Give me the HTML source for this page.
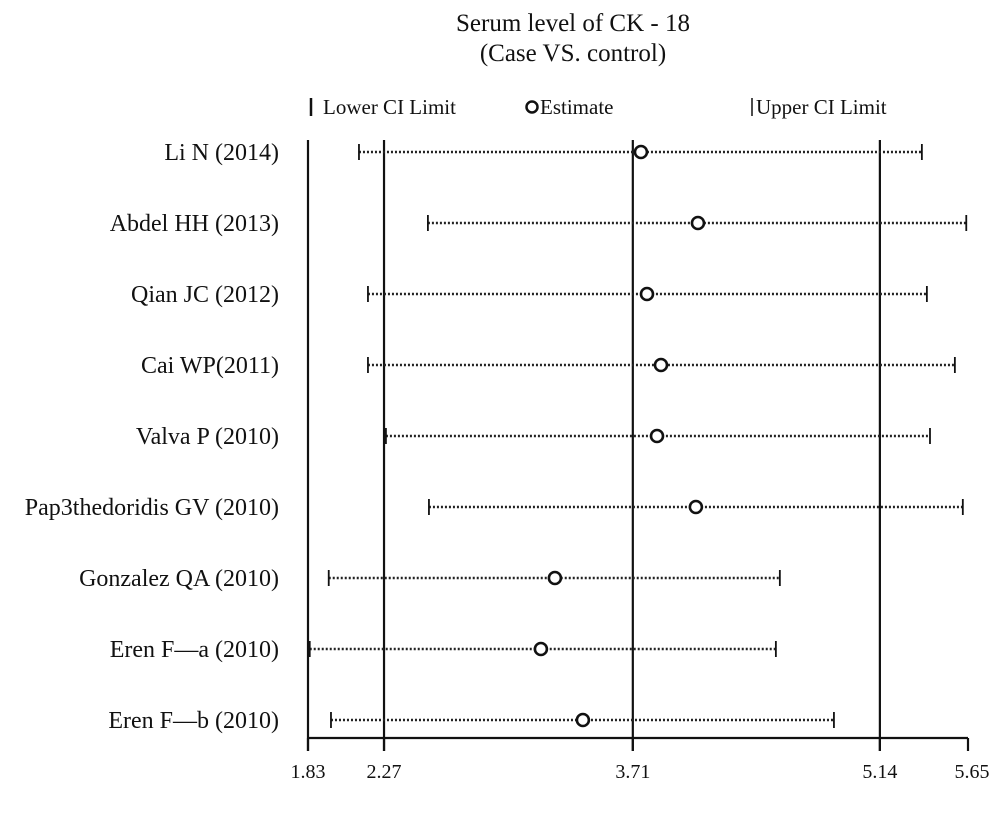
<!DOCTYPE html>
<html><head><meta charset="utf-8"><style>
body{margin:0;background:#fff;}
svg text{font-family:"Liberation Serif",serif;fill:#111;}
</style></head><body>
<svg id="chart" width="1000" height="819" xmlns="http://www.w3.org/2000/svg">
<text x="573" y="31" font-size="25" text-anchor="middle">Serum level of CK - 18</text>
<text x="573" y="61" font-size="25" text-anchor="middle">(Case VS. control)</text>
<g>
<line x1="311" y1="98" x2="311" y2="116" stroke="#111" stroke-width="2.5"/>
<text x="323" y="114" font-size="21">Lower CI Limit</text>
<circle cx="532" cy="107" r="5.5" fill="none" stroke="#111" stroke-width="2.5"/>
<text x="540" y="114" font-size="21">Estimate</text>
<line x1="752" y1="98" x2="752" y2="116" stroke="#111" stroke-width="1.5"/>
<text x="756" y="114" font-size="21">Upper CI Limit</text>
</g>
<g id="plot"></g>
</svg>
<script>
const studies=["Li N (2014)","Abdel HH (2013)","Qian JC (2012)","Cai WP(2011)","Valva P (2010)","Pap3thedoridis GV (2010)","Gonzalez QA (2010)","Eren F—a (2010)","Eren F—b (2010)"];
const lowerCI=[2.125,2.524,2.177,2.177,2.281,2.53,1.95,1.84,1.963];
const estimates=[3.757,4.087,3.792,3.873,3.85,4.075,3.259,3.178,3.421];
const upperCI=[5.383,5.64,5.412,5.574,5.43,5.62,4.561,4.538,4.874];
const tickValues=[1.83,2.27,3.71,5.14,5.65];
const tickLabels=["1.83","2.27","3.71","5.14","5.65"];
const refLines=[1.83,2.27,3.71,5.14];
const xMin=1.83,xMax=5.65,px0=308,px1=968;
const x=v=>px0+(v-xMin)/(xMax-xMin)*(px1-px0);
const rowY=i=>152+i*71;
const axisY=738,topY=140;
const g=document.getElementById('plot');
const NS="http://www.w3.org/2000/svg";
function mk(tag,attrs){const e=document.createElementNS(NS,tag);for(const k in attrs)e.setAttribute(k,attrs[k]);g.appendChild(e);return e;}
refLines.forEach((v,i)=>{const l=mk('line',{x1:x(v),x2:x(v),y1:topY,y2:axisY+13,stroke:'#111','stroke-width':2.2});

});
const ax=mk('line',{x1:x(xMin),x2:x(xMax),y1:axisY,y2:axisY,stroke:'#111','stroke-width':2.2});


tickValues.forEach((v,i)=>{const t=mk('line',{x1:x(v),x2:x(v),y1:axisY,y2:axisY+13,stroke:'#111','stroke-width':2.2});


const tx=mk('text',{x:x(v)+(i==4?4:0),y:axisY+40,'font-size':20,'text-anchor':'middle'});
tx.textContent=tickLabels[i];

});
studies.forEach((s,i)=>{const y=rowY(i);
const lb=mk('text',{x:279,y:y+8,'font-size':24,'text-anchor':'end'});lb.textContent=s;


const ci=mk('line',{x1:x(lowerCI[i]),x2:x(upperCI[i]),y1:y,y2:y,stroke:'#222','stroke-width':2.4,'stroke-dasharray':'2,2'});


const lo=mk('line',{x1:x(lowerCI[i]),x2:x(lowerCI[i]),y1:y-8,y2:y+8,stroke:'#111','stroke-width':1.8});


const up=mk('line',{x1:x(upperCI[i]),x2:x(upperCI[i]),y1:y-8,y2:y+8,stroke:'#111','stroke-width':1.8});


const c=mk('circle',{cx:x(estimates[i]),cy:y,r:6,fill:'#fff',stroke:'#111','stroke-width':2.6});

});
</script>
</body></html>
